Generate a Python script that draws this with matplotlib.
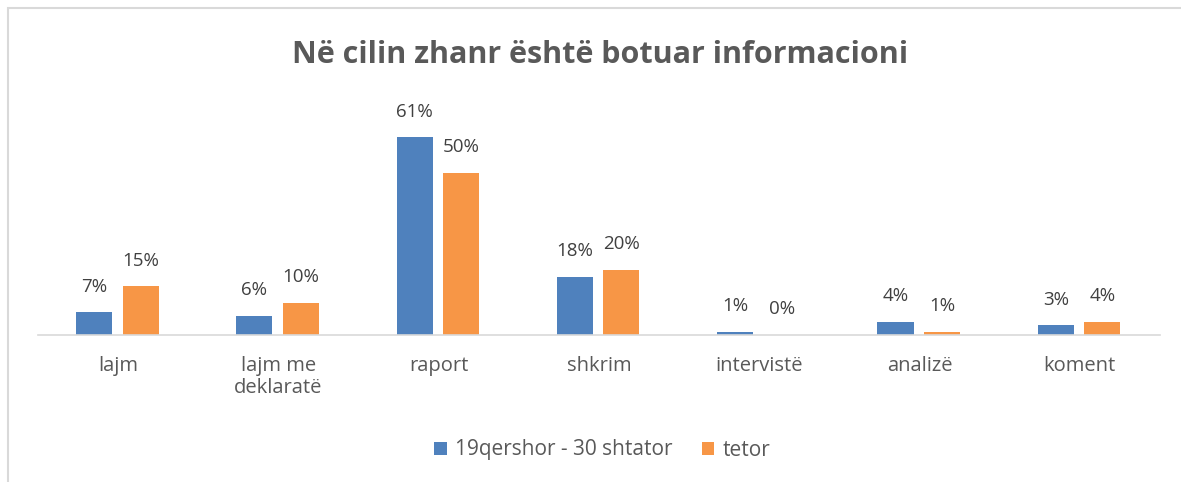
import numpy as np
import matplotlib.pyplot as plt
from matplotlib.patches import Rectangle

plt.rcParams['font.family'] = ['Open Sans', 'DejaVu Sans']

categories = ["lajm", "lajm me\ndeklaratë", "raport", "shkrim", "intervistë", "analizë", "koment"]
period1 = [7, 6, 61, 18, 1, 4, 3]
period2 = [15, 10, 50, 20, 0, 1, 4]
series_names = ["19qershor - 30 shtator", "tetor"]

blue = "#4f81bd"
orange = "#f79646"
text_color = "#595959"

fig = plt.figure(figsize=(11.81, 4.82), dpi=100)
ax = fig.add_axes([38 / 1181, 1 - 335 / 482, 1122 / 1181, 227 / 482])

x = np.arange(len(categories))
w = 0.225
b1 = ax.bar(x - 0.15, period1, w, color=blue, label=series_names[0])
b2 = ax.bar(x + 0.14, period2, w, color=orange, label=series_names[1])

for bars, vals in ((b1, period1), (b2, period2)):
    for bar, v in zip(bars, vals):
        ax.annotate(f"{v}%", (bar.get_x() + bar.get_width() / 2, v),
                    xytext=(0, 12), textcoords="offset points",
                    ha="center", va="bottom", fontsize=13.5, color="#404040")

ax.set_xlim(-0.5, len(categories) - 0.5)
ax.set_ylim(0, 70)
ax.set_xticks(x)
ax.set_xticklabels(categories, fontsize=14.5, color=text_color, linespacing=1.15)
ax.tick_params(axis="x", length=0, pad=15)
ax.set_yticks([])
for s in ["top", "right", "left"]:
    ax.spines[s].set_visible(False)
ax.spines["bottom"].set_color("#d9d9d9")
ax.spines["bottom"].set_linewidth(1.2)

fig.text(0.508, 1 - 55 / 482, "Në cilin zhanr është botuar informacioni",
         ha="center", va="center", fontsize=22, fontweight="bold", color=text_color)

fig.legend(loc="center", bbox_to_anchor=(0.51, 1 - 450 / 482), ncol=2, frameon=False,
           fontsize=15, handlelength=0.6, handleheight=0.6, columnspacing=1.4,
           handletextpad=0.4, labelcolor=text_color)

fig.patches.append(Rectangle((8 / 1181, -0.1), 1.2, 1 - 8 / 482 + 0.1, transform=fig.transFigure,
                             fill=False, edgecolor="#d9d9d9", linewidth=1.5))

fig.savefig("out.png", dpi=100)
